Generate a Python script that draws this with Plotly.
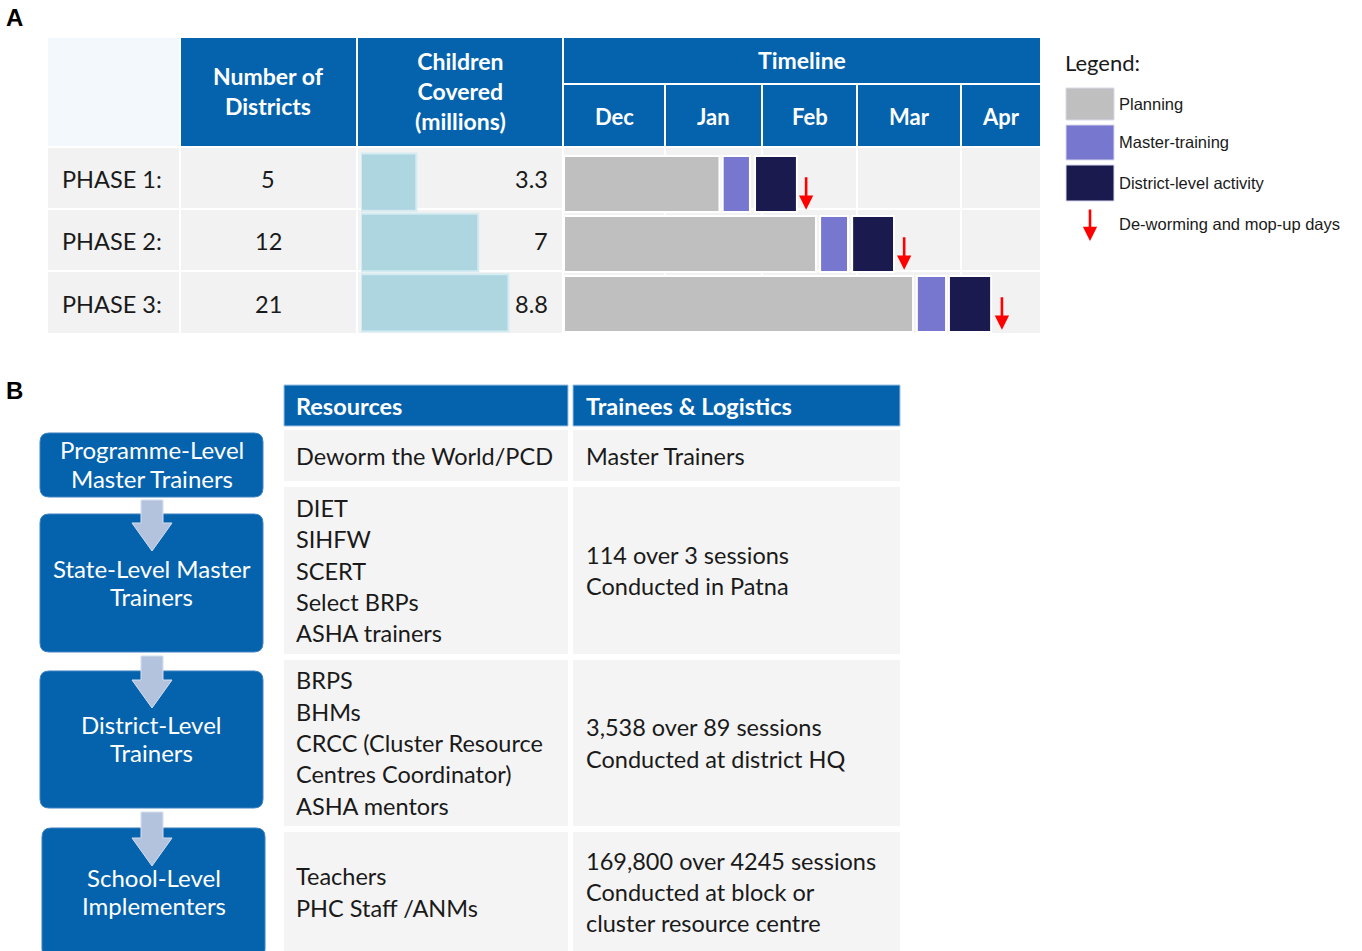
import plotly.graph_objects as go

W, H = 1362, 951

# ---------------- data ----------------
phases = ["PHASE 1:", "PHASE 2:", "PHASE 3:"]
districts = [5, 12, 21]
children_millions = [3.3, 7, 8.8]
months = ["Dec", "Jan", "Feb", "Mar", "Apr"]
# timeline, days counted from 1 December
planning_start = [0, 0, 0]
planning_end = [49, 79.4, 110]
master_start = [50, 80.7, 111.2]
master_end = [58.6, 89.5, 120.4]
district_start = [60.2, 90.8, 121.3]
district_end = [73.4, 104, 134.6]
deworm_day = [76.3, 107.2, 138]

legend_items = ["Planning", "Master-training", "District-level activity"]
legend_arrow_label = "De-worming and mop-up days"

levels = [["Programme-Level", "Master Trainers"], ["State-Level Master", "Trainers"],
          ["District-Level", "Trainers"], ["School-Level", "Implementers"]]
resources = [["Deworm the World/PCD"],
             ["DIET", "SIHFW", "SCERT", "Select BRPs", "ASHA trainers"],
             ["BRPS", "BHMs", "CRCC (Cluster Resource", "Centres Coordinator)", "ASHA mentors"],
             ["Teachers", "PHC Staff /ANMs"]]
trainees = [["Master Trainers"],
            ["114 over 3 sessions", "Conducted in Patna"],
            ["3,538 over 89 sessions", "Conducted at district HQ"],
            ["169,800 over 4245 sessions", "Conducted at block or", "cluster resource centre"]]

# ---------------- style ----------------
BLUE = "#0563AE"
ROWBG = "#F2F2F2"
ROWBG_B = "#F4F4F4"
C_PLAN = "#BFBFBF"
C_MASTER = "#7777CF"
C_DIST = "#1B1A4E"
C_CHILD = "#ADD6E0"
FONT = "Lato"
ARIAL = "Liberation Sans"
PAD = 3  # annotation inner padding compensation


def px(x):
    return x / W


def py(y):
    return 1 - y / H


shapes = []
annotations = []


def rect(x0, y0, x1, y1, fill, line=None, lw=0):
    shapes.append(dict(type="rect", xref="paper", yref="paper",
                       x0=px(x0), x1=px(x1), y0=py(y1), y1=py(y0),
                       fillcolor=fill, line=dict(color=line or fill, width=lw),
                       layer="below"))


def rrect(x0, y0, x1, y1, r, fill, line=None, lw=0):
    def P(x, y):
        return f"{px(x):.6f},{py(y):.6f}"
    path = (f"M {P(x0 + r, y0)} L {P(x1 - r, y0)} Q {P(x1, y0)} {P(x1, y0 + r)} "
            f"L {P(x1, y1 - r)} Q {P(x1, y1)} {P(x1 - r, y1)} L {P(x0 + r, y1)} "
            f"Q {P(x0, y1)} {P(x0, y1 - r)} L {P(x0, y0 + r)} Q {P(x0, y0)} {P(x0 + r, y0)} Z")
    shapes.append(dict(type="path", xref="paper", yref="paper", path=path,
                       fillcolor=fill, line=dict(color=line or fill, width=lw), layer="above"))


def block_arrow(cx, top, head, tip, hw_shaft, hw_head, fill):
    pts = [(cx - hw_shaft, top), (cx + hw_shaft, top), (cx + hw_shaft, head), (cx + hw_head, head),
           (cx, tip), (cx - hw_head, head), (cx - hw_shaft, head)]
    path = "M " + " L ".join(f"{px(x):.6f},{py(y):.6f}" for x, y in pts) + " Z"
    shapes.append(dict(type="path", xref="paper", yref="paper", path=path,
                       fillcolor=fill, line=dict(color="#D5DEEE", width=1), layer="above"))


def text(x, y, s, size, color="#1a1a1a", bold=False, xanchor="left", family=FONT):
    if xanchor == "left":
        x -= PAD
    elif xanchor == "right":
        x += PAD
    annotations.append(dict(x=px(x), y=py(y), xref="paper", yref="paper", text=s, showarrow=False,
                            xanchor=xanchor, yanchor="middle",
                            align="center" if xanchor == "center" else xanchor,
                            font=dict(family=family, size=size, color=color,
                                      weight=700 if bold else 400)))


# ================= Panel A =================
text(7, 18, "A", 24, "#000", True, "left", ARIAL)

# header
rect(48, 38, 179, 146, "#F3F8FC")
rect(181, 38, 356, 146, BLUE)
rect(358, 38, 562, 146, BLUE)
rect(564, 38, 1040, 83, BLUE)
month_cols = [(564, 664), (666, 761), (763, 856), (858, 960), (962, 1040)]
for (a, b), m in zip(month_cols, months):
    rect(a, 85, b, 146, BLUE)
    text((a + b) / 2, 116, m, 22, "white", True, "center")
text(268, 91, "Number of<br>Districts", 23, "white", True, "center")
text(460, 91, "Children<br>Covered<br>(millions)", 23, "white", True, "center")
text(802, 60, "Timeline", 23, "white", True, "center")

rows_a = [(148, 208), (210, 270), (272, 333)]
row_text_y = [179, 241, 304]
for (r0, r1) in rows_a:
    rect(48, r0, 179, r1, ROWBG)
    rect(181, r0, 356, r1, ROWBG)
    rect(358, r0, 562, r1, ROWBG)
    for (a, b) in month_cols:
        rect(a, r0, b, r1, ROWBG)

for ph, d, c, ty in zip(phases, districts, children_millions, row_text_y):
    text(63, ty, ph, 23.5, "#1a1a1a", False, "left")
    text(268, ty, str(d), 23.5, "#1a1a1a", False, "center")
    text(547, ty, f"{c:g}", 23.5, "#1a1a1a", False, "right")

fig = go.Figure()

# children covered bars
fig.add_trace(go.Bar(x=children_millions, y=phases, orientation="h", xaxis="x", yaxis="y",
                     width=0.95, marker=dict(color=C_CHILD, line=dict(color="#D3EBF1", width=2)),
                     showlegend=False, hoverinfo="x+y"))

# gantt bars
plan_len = [e - s for s, e in zip(planning_start, planning_end)]
master_len = [e - s for s, e in zip(master_start, master_end)]
dist_len = [e - s for s, e in zip(district_start, district_end)]
for base, length, col, name in [(planning_start, plan_len, C_PLAN, legend_items[0]),
                                (master_start, master_len, C_MASTER, legend_items[1]),
                                (district_start, dist_len, C_DIST, legend_items[2])]:
    fig.add_trace(go.Bar(x=length, base=base, y=phases, orientation="h", xaxis="x2", yaxis="y2",
                         width=0.93, name=name,
                         marker=dict(color=col, line=dict(color="white", width=2)),
                         showlegend=False))

# de-worming arrows
for i, d in enumerate(deworm_day):
    annotations.append(dict(x=d, y=i + 0.43, xref="x2", yref="y2", ax=0, ay=-34,
                            showarrow=True, arrowhead=2, arrowsize=1.1, arrowwidth=2.6,
                            arrowcolor="#FF0000", text=""))

# legend
text(1066, 62, "Legend:", 22, "#1a1a1a", False, "left")
sw = [(88, 120, C_PLAN), (125, 160, C_MASTER), (165, 201, C_DIST)]
for (a, b, col), lab, ly in zip(sw, legend_items, [104, 142, 183]):
    rect(1066, a, 1114, b, col, "#D9D9EE", 1)
    text(1120, ly, lab, 16.5, "#1a1a1a", False, "left", ARIAL)
text(1120, 224, legend_arrow_label, 16.5, "#1a1a1a", False, "left", ARIAL)
annotations.append(dict(x=px(1090), y=py(241), xref="paper", yref="paper", ax=0, ay=-33,
                        showarrow=True, arrowhead=2, arrowsize=1.1, arrowwidth=2.6,
                        arrowcolor="#FF0000", text=""))

# ================= Panel B =================
text(7, 390, "B", 24, "#000", True, "left", ARIAL)

boxes = [(40, 433, 263, 497), (40, 514, 263, 652), (40, 671, 263, 808), (42, 828, 265, 958)]
for (x0, y0, x1, y1), lines in zip(boxes, levels):
    cy = (y0 + y1) / 2 - 1 if y1 < 900 else 891
    rrect(x0, y0, x1, y1, 9, BLUE, "#3F82C0", 1)
    n = len(lines)
    for k, s in enumerate(lines):
        text((x0 + x1) / 2, cy + (k - (n - 1) / 2) * 28, s, 24, "white", False, "center")
for top, head, tip in [(500, 523, 551), (656, 680, 708), (812, 838, 866)]:
    block_arrow(152, top, head, tip, 11, 20, "#B3C3DD")

# table B
rect(284, 385, 568, 426, BLUE, "#9DC3E6", 1)
rect(573, 385, 900, 426, BLUE, "#9DC3E6", 1)
text(297, 406, "Resources", 23.5, "white", True, "left")
text(587, 406, "Trainees & Logistics", 23.5, "white", True, "left")
rows_b = [(430, 481), (487, 654), (660, 826), (832, 955)]
LS = 31.4
for (r0, r1), res, tr in zip(rows_b, resources, trainees):
    rect(284, r0, 568, r1, ROWBG_B)
    rect(573, r0, 900, r1, ROWBG_B)
    cy = (r0 + r1) / 2 - (1.5 if r1 > 900 else 0)
    for lines, x in [(res, 297), (tr, 587)]:
        n = len(lines)
        for k, s in enumerate(lines):
            text(x, cy + (k - (n - 1) / 2) * LS, s, 23.5, "#1a1a1a", False, "left")

fig.update_layout(
    width=W, height=H, margin=dict(l=0, r=0, t=0, b=0),
    paper_bgcolor="white", plot_bgcolor="rgba(0,0,0,0)",
    barmode="overlay", showlegend=False,
    xaxis=dict(domain=[px(361), px(562)], range=[0, 12.0], visible=False, fixedrange=True),
    yaxis=dict(domain=[py(333), py(152)], categoryorder="array", categoryarray=phases,
               range=[2.5, -0.5], visible=False, fixedrange=True),
    xaxis2=dict(domain=[px(564), px(1040)], range=[0, 150], visible=False, fixedrange=True,
                anchor="y2"),
    yaxis2=dict(domain=[py(334), py(154)], categoryorder="array", categoryarray=phases,
                range=[2.5, -0.5], visible=False, fixedrange=True, anchor="x2"),
    shapes=shapes, annotations=annotations,
)

fig.write_html("out.html", include_plotlyjs=True, config={"displayModeBar": False},
               post_script="document.body.style.margin='0';document.body.style.overflow='hidden';")
